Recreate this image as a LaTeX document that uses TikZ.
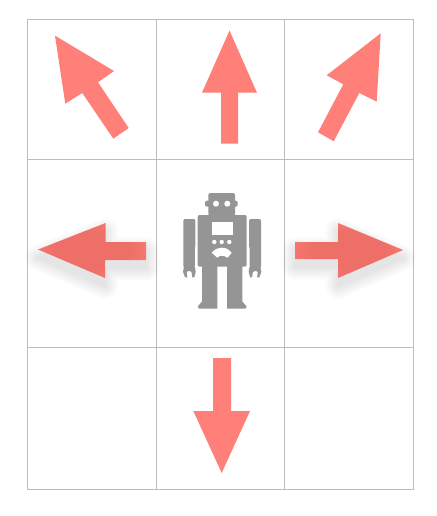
\documentclass[tikz,border=0pt]{standalone}
\usepackage{tikz}
\usetikzlibrary{calc}
\definecolor{arrowred}{HTML}{FF8078}
\definecolor{arrowdark}{HTML}{EE6F68}
\definecolor{gridgray}{HTML}{BDBDBD}
\definecolor{robotgray}{HTML}{959595}
\pgfdeclareradialshading{arrowglow}{\pgfpoint{0bp}{0bp}}{color(0bp)=(arrowdark); color(17bp)=(arrowdark); color(36bp)=(arrowred); color(50bp)=(arrowred)}

\begin{document}
\begin{tikzpicture}[
        x=1pt, y=-1pt,
        gridline/.style={draw=gridgray, line width=1pt},
        bigarrow/.style={fill=arrowred},
        glowarrow/.style={shading=arrowglow},
        robotpart/.style={fill=robotgray, rounded corners=2pt},
        robothole/.style={fill=white},
        mirrored/.style={xshift=444.4pt, xscale=-1},
        leftpath/.style={insert path={(38,249.5) -- (105.5,223) -- (105.5,242) -- (146,242) -- (146,260) -- (105,260) -- (105,278) -- cycle}},
        rightpath/.style={insert path={(403,250) -- (338,278) -- (338,259) -- (295,259) -- (295,242) -- (338,242) -- (338,223) -- cycle}},
        robotarm/.pic={
            \fill[robotpart] (183.3,219) -- (195.4,219) -- (195.4,245) -- (194.8,246.5) -- (194.8,268) -- (183.3,268) -- cycle;
            \fill[robotgray] (184,267) -- (195,267) -- (195.7,271.7) -- (194.3,277.3) -- (192.3,277.3) -- (191.7,272.7) -- (190,271) -- (187.7,271) -- (186.7,272.7) -- (187.3,277.3) -- (185,277.3) -- (183,271.7) -- cycle;
        },
        robotleg/.pic={
            \fill[robotgray] (202,266) -- (217.3,266) -- (217.3,308.7) -- (199,308.7) -- (197.8,306.5) -- (202,301.5) -- cycle;
        }
    ]
        \useasboundingbox (0,0) rectangle (436,516);
        \fill[white] (0,0) rectangle (436,516);

        % --- GRID ---
        \foreach \gridx in {27.5,156.5,284.5,413.5}
            \draw[gridline] (\gridx,19.5) -- (\gridx,489.5);
        \foreach \gridy in {19.5,159.5,347.5,489.5}
            \draw[gridline] (27.5,\gridy) -- (413.5,\gridy);

        % --- PLAIN ARROWS ---
        \fill[bigarrow] (55,35.7) -- (114,71) -- (98,82.3) -- (128.7,128) -- (113.3,138.7) -- (82.3,93) -- (65.3,103.7) -- cycle;
        \fill[bigarrow] (229.5,30.5) -- (257,92.7) -- (238,92.7) -- (238,143.7) -- (221,143.7) -- (221,92.7) -- (202,92.7) -- cycle;
        \fill[bigarrow] (380.7,33.3) -- (376.7,101.7) -- (359.3,93) -- (333.7,141.3) -- (318,132.3) -- (343.3,84.3) -- (326.7,75.3) -- cycle;
        \fill[bigarrow] (213,358) -- (231,358) -- (231,411) -- (250,411) -- (221.7,473) -- (193.3,411) -- (213,411) -- cycle;

        % --- ARROWS WITH SHADOW ---
        \foreach \blur in {2,4,...,26} {
            \begin{scope}[transparency group, opacity=0.009, yshift=-8pt]
                \filldraw[black, line width=\blur pt, line join=round, leftpath];
            \end{scope}
            \begin{scope}[transparency group, opacity=0.009, yshift=-8pt]
                \filldraw[black, line width=\blur pt, line join=round, rightpath];
            \end{scope}
        }
        \path[glowarrow, leftpath];
        \path[glowarrow, rightpath];

        % --- ROBOT ---
        \fill[robotpart] (197.7,215) rectangle (246.7,266.7);
        \fill[robotpart] (208.3,193) rectangle (235,216);
        \fill[robotpart] (205,200.7) rectangle (237.7,206.7);
        \pic {robotarm};
        \pic[mirrored] {robotarm};
        \pic {robotleg};
        \pic[mirrored] {robotleg};

        % Eyes, screen, buttons and mouth
        \fill[robothole] (216,203.7) circle (3);
        \fill[robothole] (227.3,203.7) circle (3);
        \fill[robothole] (211.7,222.3) rectangle (232.7,235);
        \foreach \buttonx in {214.3,221.7,229.3}
            \fill[robothole] (\buttonx,242) circle (2.2);
        \fill[robothole] (211.7,252.7) .. controls (215,249) and (218,247.7) .. (221.7,247.7) .. controls (225.5,247.7) and (228.5,249) .. (231.7,252.7) -- (227.7,257.7) .. controls (225,256.2) and (223.5,255.7) .. (221.7,255.7) .. controls (220,255.7) and (218.5,256.2) .. (217.3,257.7) -- cycle;
    \end{tikzpicture}
\end{document}
